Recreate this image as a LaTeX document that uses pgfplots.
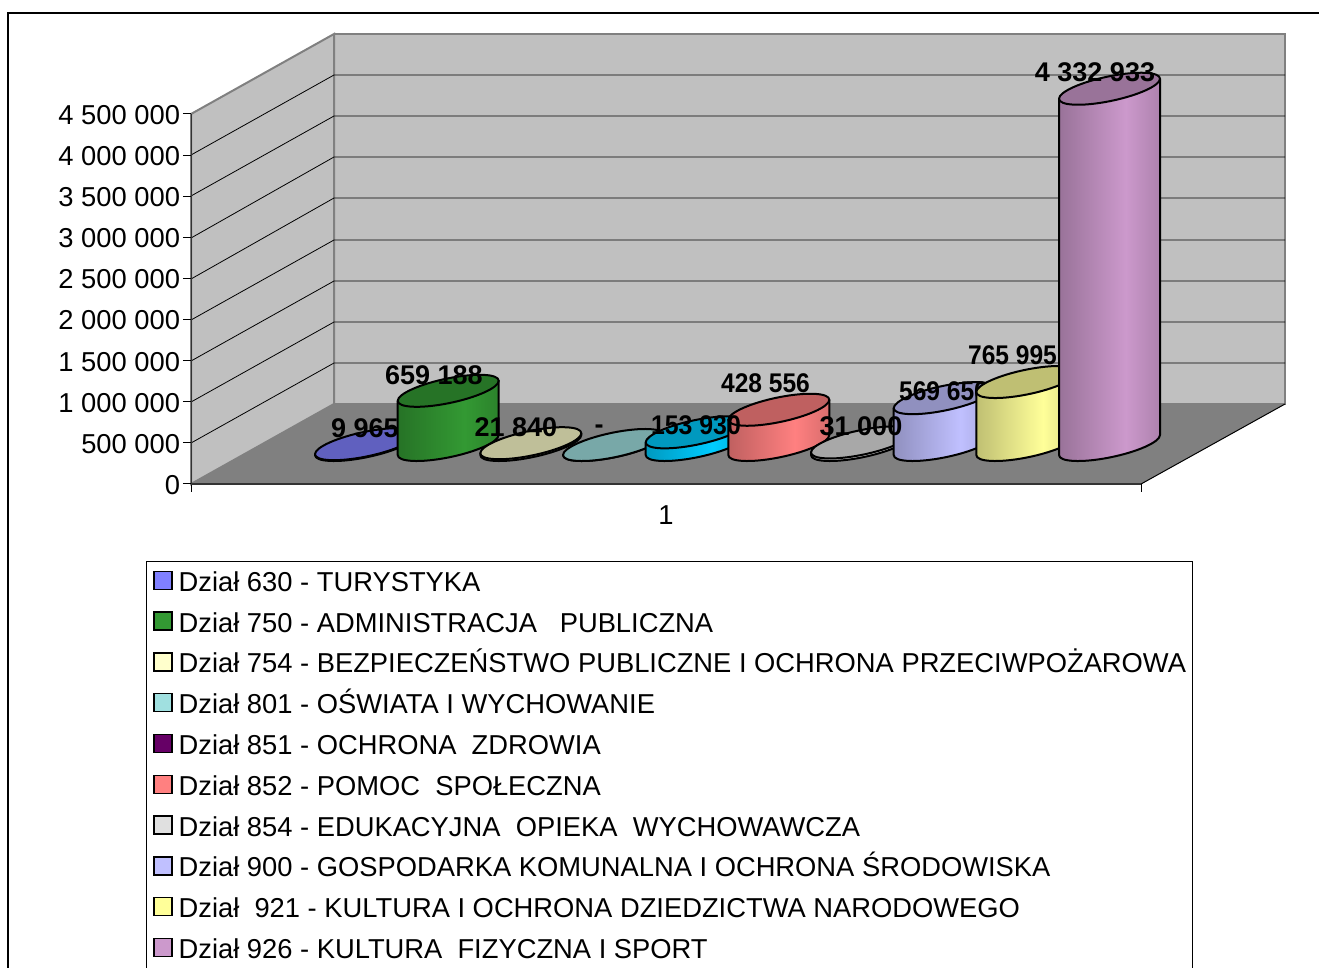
\documentclass[border=0pt]{standalone}
\usepackage{graphicx}
\usepackage{pgfplots}
\pgfplotsset{compat=1.18}
\usepackage{fontspec}
\setmainfont{Liberation Sans}
\definecolor{wall}{HTML}{C0C0C0}
\definecolor{floorc}{HTML}{808080}
\definecolor{edge}{HTML}{808080}
\newlength\cylH
\newcommand\defcyl[2]{%
  \definecolor{c#1}{HTML}{#2}%
  \colorlet{c#1t}{c#1!75!black}%
  \colorlet{c#1r}{c#1!85!black}%
  \pgfdeclarehorizontalshading{cyls#1}{100bp}{color(0bp)=(c#1t); color(25bp)=(c#1t); color(58bp)=(c#1); color(75bp)=(c#1r); color(100bp)=(c#1r)}%
}
\defcyl{630}{8080FF}
\defcyl{750}{339933}
\defcyl{754}{FFFFCC}
\defcyl{801}{A0E0E0}
\defcyl{851}{00CCFF}
\defcyl{852}{FF8080}
\defcyl{854}{E0E0E0}
\defcyl{900}{C0C0FF}
\defcyl{921}{FFFF99}
\defcyl{926}{CC99CC}
\definecolor{leg851}{HTML}{660066}
% one cylinder, origin at the centre of its top ellipse
\newcommand\cylbody[1]{%
  \setlength\cylH{\dimexpr\rawv sp*40414/10000\relax}%
  \shade[draw=black,line width=1.5pt,line join=round,shading=cyls#1]
    (-37.875pt,-7.5pt) -- (-37.875pt,{-7.5pt-\cylH})
    .. controls (-37.875pt,{-12.68pt-\cylH}) and (-20.92pt,{-13.515pt-\cylH}) .. (0pt,{-9.375pt-\cylH})
    .. controls (20.92pt,{-5.235pt-\cylH}) and (37.875pt,{2.32pt-\cylH}) .. (37.875pt,{7.5pt-\cylH})
    -- (37.875pt,7.5pt) -- cycle;
  \path[draw=black,line width=1.5pt,line join=round,fill=c#1t]
    (37.875pt,7.5pt)
    .. controls (37.875pt,12.68pt) and (20.92pt,13.515pt) .. (0pt,9.375pt)
    .. controls (-20.92pt,5.235pt) and (-37.875pt,-2.32pt) .. (-37.875pt,-7.5pt)
    .. controls (-37.875pt,-12.68pt) and (-20.92pt,-13.515pt) .. (0pt,-9.375pt)
    .. controls (20.92pt,-5.235pt) and (37.875pt,2.32pt) .. cycle;
}
\pgfplotsset{
  cyl/.style={scatter,only marks,mark=*,
    visualization depends on={value \thisrow{v} \as \rawv},
    scatter/@pre marker code/.code={\cylbody{#1}\scope[mark size=0pt,opacity=0]},
    legend image code/.code={\draw[black,line width=1.1pt,fill=c#1] (0.75pt,-3.5pt) rectangle (14.25pt,10pt);}},
}
\newcommand\lab[5]{%
  \addplot[forget plot,draw=none,mark=none,point meta=y,nodes near coords={\scalebox{#5}[1]{#4}},
    nodes near coords style={anchor=center,inner sep=0pt,yshift=#3*0.75pt,font=\bfseries\fontsize{20.25pt}{24pt}\selectfont,text=black}]
    coordinates {(#1,#2)};}
\begin{document}
\begin{tikzpicture}
\useasboundingbox (0,0) rectangle (989.25pt,725.25pt);
\clip (0,0) rectangle (989.25pt,725.25pt);
% scenery, in picture pixels
\begin{axis}[at={(0,0)},anchor=south west,scale only axis,width=989.25pt,height=725.25pt,
  xmin=0,xmax=1319,ymin=0,ymax=967,y dir=reverse,hide axis,clip=false,no markers]
\addplot[fill=wall,draw=edge,line width=1.5pt] coordinates {(334,34)(1285,34)(1285,404)(334,404)(334,34)};
\addplot[fill=wall,draw=edge,line width=1.5pt] coordinates {(191,114)(334,34)(334,404)(191,484)(191,114)};
\addplot[fill=floorc,draw=none] coordinates {(191,484)(334,404)(1285,404)(1141,484)(191,484)};
\addplot[black,line width=0.75pt] coordinates {(1141,484)(1285,404)};
\addplot[black,line width=0.6pt] coordinates {(191,443)(334,363)(1285,363)};
\addplot[black,line width=0.6pt] coordinates {(191,402)(334,322)(1285,322)};
\addplot[black,line width=0.6pt] coordinates {(191,361)(334,281)(1285,281)};
\addplot[black,line width=0.6pt] coordinates {(191,320)(334,240)(1285,240)};
\addplot[black,line width=0.6pt] coordinates {(191,279)(334,198)(1285,198)};
\addplot[black,line width=0.6pt] coordinates {(191,238)(334,157)(1285,157)};
\addplot[black,line width=0.6pt] coordinates {(191,196)(334,116)(1285,116)};
\addplot[black,line width=0.6pt] coordinates {(191,155)(334,75)(1285,75)};
\addplot[black,line width=1pt] coordinates {(8,975)(8,13)(1330,13)};
\end{axis}
% value axis
\begin{axis}[at={(143.25pt,362.25pt)},anchor=south west,scale only axis,width=712.5pt,height=277.5pt,
  xmin=0,xmax=2,ymin=0,ymax=4500000,
  axis lines=left,axis line style={-},
  x axis line style={line width=1.5pt,color=black!80},
  y axis line style={line width=0.75pt,color=black!80},
  xtick={0,2},xticklabels={},
  extra x ticks={1},extra x tick labels={1},extra x tick style={major tick length=0pt},
  ytick={0,500000,...,4500000},
  tick align=outside,major tick length=6pt,tick style={black,line width=0.75pt},
  scaled y ticks=false,
  /pgf/number format/.cd,fixed,1000 sep={\ },assume math mode=true,/pgfplots/.cd,
  tick label style={font=\fontsize{20.5pt}{24pt}\selectfont,text=black},
  yticklabel style={inner sep=0pt,xshift=-2pt,yshift=-0.75pt},
  xticklabel style={inner sep=0pt,yshift=-16pt},
]
\end{axis}
% cylinders: base centres sit on the floor, values on the same scale as the value axis
\begin{axis}[at={(0pt,391.5pt)},anchor=south west,scale only axis,width=989.25pt,height=277.5pt,
  xmin=0,xmax=1319,ymin=0,ymax=4500000,hide axis,clip=false,
  point meta min=0,point meta max=5000000,
  legend cell align=left,
  legend style={at={(146/1319,-0.3135)},anchor=north west,draw=black,line width=0.75pt,
    inner xsep=5pt,inner ysep=6.9pt,
    font=\fontsize{20.5pt}{24pt}\selectfont,
    row sep=10.03pt,
    nodes={inner sep=0pt,text height=15pt,text depth=5pt},
    /tikz/every odd column/.append style={column sep=4.5pt}},
]
\addplot[cyl=630] table {x v
365.5 9965
}; \addlegendentry{Dział 630 - TURYSTYKA}
\addplot[cyl=750] table {x v
448.2 659188
}; \addlegendentry{Dział 750 - ADMINISTRACJA\ \ \ PUBLICZNA}
\addplot[cyl=754] table {x v
530.8 21840
}; \addlegendentry{Dział 754 - BEZPIECZEŃSTWO PUBLICZNE I OCHRONA PRZECIWPOŻAROWA}
\addplot[cyl=801] table {x v
613.5 0
}; \addlegendentry{Dział 801 - OŚWIATA I WYCHOWANIE}
\addplot[cyl=851,legend image code/.code={\draw[black,line width=1.1pt,fill=leg851] (0.75pt,-3.5pt) rectangle (14.25pt,10pt);}] table {x v
696.2 153930
}; \addlegendentry{Dział 851 - OCHRONA\ \ ZDROWIA}
\addplot[cyl=852] table {x v
778.8 428556
}; \addlegendentry{Dział 852 - POMOC\ \ SPOŁECZNA}
\addplot[cyl=854] table {x v
861.5 31000
}; \addlegendentry{Dział 854 - EDUKACYJNA\ \ OPIEKA\ \ WYCHOWAWCZA}
\addplot[cyl=900] table {x v
944.2 569650
}; \addlegendentry{Dział 900 - GOSPODARKA KOMUNALNA I OCHRONA ŚRODOWISKA}
\lab{943.5}{569650}{7}{569 650}{0.91}
\addplot[cyl=921] table {x v
1026.8 765995
}; \addlegendentry{Dział\ \ 921 - KULTURA I OCHRONA DZIEDZICTWA NARODOWEGO}
\addplot[cyl=926] table {x v
1109.5 4332933
}; \addlegendentry{Dział 926 - KULTURA\ \ FIZYCZNA I SPORT}
\lab{365}{9965}{16}{9 965}{1}
\lab{434}{659188}{16}{659 188}{1}
\lab{516}{21840}{16}{21 840}{1}
\lab{599}{0}{16}{-}{1}
\lab{696}{153930}{7}{153 930}{0.92}
\lab{765.5}{428556}{27}{428 556}{0.91}
\lab{861}{31000}{16}{31 000}{1}
\lab{1012.5}{765995}{27}{765 995}{0.91}
\lab{1095}{4332933}{17}{4 332 933}{1}
\end{axis}
\end{tikzpicture}
\end{document}
